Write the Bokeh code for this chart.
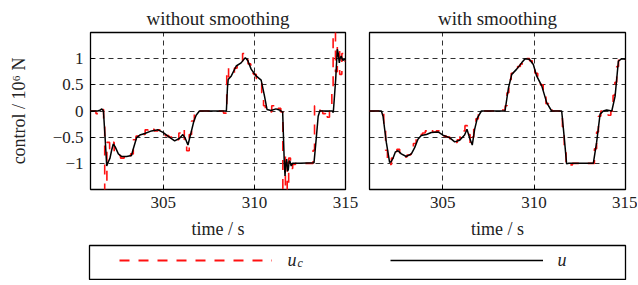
from bokeh.plotting import figure
from bokeh.layouts import column, row
from bokeh.models import Range1d, FixedTicker, Legend, LegendItem, Label
from bokeh.embed import file_html
from bokeh.resources import INLINE

# ---------------- data ----------------
x_ticks = [305, 310, 315]
x_tick_labels = ["305", "310", "315"]
y_ticks = [-1, -0.5, 0, 0.5, 1]
y_tick_labels = ["\u22121", "\u22120.5", "0", "0.5", "1"]

panel_titles = ["without smoothing", "with smoothing"]

# without smoothing: applied control u
t_u_left = [301.0, 301.4, 301.55, 301.62, 301.71, 301.80, 301.89, 301.98, 302.07, 302.16,
            302.25, 302.35, 302.53, 302.71, 302.98, 303.25, 303.35, 303.53, 303.71, 303.98,
            304.35, 304.71, 304.98, 305.25, 305.62, 305.89, 306.07, 306.2, 306.35, 306.53,
            306.67, 306.8, 306.98, 308.4, 308.46, 308.52, 308.56, 308.73, 309.0, 309.27,
            309.5, 309.64, 309.82, 310.09, 310.37, 310.55, 310.69, 310.91, 311.18, 311.37,
            311.55, 311.64, 311.68, 311.72, 311.77, 311.82, 311.86, 311.91, 311.96, 312.02,
            312.09, 312.5, 313.27, 313.4, 313.5, 313.59, 313.99, 314.27, 314.33, 314.46,
            314.55, 314.6, 314.66, 314.7, 314.76, 314.85, 315.0]
u_left = [0.0, 0.0, 0.02, 0.04, 0.0, -0.5, -1.05, -0.97, -0.9, -0.75,
          -0.63, -0.68, -0.82, -0.87, -0.87, -0.85, -0.72, -0.51, -0.46, -0.43,
          -0.38, -0.36, -0.41, -0.48, -0.57, -0.52, -0.45, -0.52, -0.65, -0.4,
          -0.2, -0.08, 0.0, 0.0, 0.0, 0.45, 0.6, 0.67, 0.86, 0.92,
          1.02, 0.96, 0.8, 0.67, 0.59, 0.29, 0.03, 0.01, 0.04, 0.02,
          -0.02, -0.99, -1.24, -1.0, -0.92, -1.15, -1.12, -0.95, -0.97, -1.05,
          -1.0, -1.0, -0.99, -0.5, -0.1, 0.0, 0.0, 0.0, -0.03, 0.6,
          1.18, 1.1, 0.92, 1.0, 1.05, 0.97, 0.99]

# without smoothing: commanded control u_c (zero-order hold)
t_c_left = [301.0, 301.3, 301.45, 301.6, 301.72, 301.78, 301.9, 302.05, 302.15, 302.3,
            302.45, 302.65, 302.85, 303.05, 303.2, 303.35, 303.5, 303.7, 303.85, 304.0,
            304.15, 304.3, 304.5, 304.7, 304.9, 305.1, 305.3, 305.5, 305.7, 305.85,
            306.0, 306.15, 306.28, 306.42, 306.55, 306.7, 306.85, 308.3, 308.45, 308.48,
            308.58, 308.72, 308.9, 309.05, 309.2, 309.35, 309.5, 309.65, 309.8, 309.95,
            310.1, 310.25, 310.4, 310.5, 310.6, 310.8, 310.95, 311.1, 311.3, 311.45,
            311.56, 311.7, 311.8, 311.88, 311.98, 312.1, 312.25, 313.22, 313.3, 313.45,
            313.6, 313.75, 313.9, 314.0, 314.12, 314.25, 314.32, 314.45, 314.55, 314.68,
            314.8, 314.9, 315.0]
uc_left = [0.0, -0.05, 0.0, 0.03, -0.3, -1.7, -0.6, -0.72, -0.6, -0.78,
           -0.85, -0.9, -0.85, -0.88, -0.82, -0.55, -0.48, -0.42, -0.45, -0.36,
           -0.4, -0.35, -0.38, -0.36, -0.43, -0.47, -0.5, -0.56, -0.55, -0.42,
           -0.34, -0.55, -0.76, -0.45, -0.19, -0.06, 0.0, -0.04, 0.0, 0.82,
           0.65, 0.72, 0.82, 0.9, 0.95, 1.1, 0.98, 0.9, 0.72, 0.7,
           0.62, 0.58, 0.35, 0.1, 0.0, -0.02, 0.1, 0.02, 0.05, -0.02,
           -1.7, -0.85, -1.7, -0.9, -1.1, -1.02, -1.0, -0.75, 0.1, 0.05,
           0.0, -0.05, 0.0, -0.12, 0.0, 0.45, 1.7, 0.75, 1.25, 0.7,
           1.1, 0.95, 0.95]

# with smoothing: applied control u
t_u_right = [301.0, 301.65, 301.74, 301.92, 302.1, 302.18, 302.29, 302.42, 302.56, 302.74,
             303.01, 303.29, 303.47, 303.65, 303.83, 304.11, 304.38, 304.75, 305.02, 305.38,
             305.66, 305.93, 306.2, 306.33, 306.48, 306.62, 306.75, 306.9, 307.12, 308.41,
             308.6, 308.78, 309.05, 309.32, 309.51, 309.74, 309.96, 310.14, 310.42, 310.69,
             310.96, 311.51, 311.64, 311.78, 311.9, 313.24, 313.42, 313.61, 313.79, 313.97,
             314.25, 314.43, 314.61, 314.79, 315.0]
u_right = [0.0, 0.0, -0.1, -0.6, -0.98, -0.97, -0.9, -0.78, -0.76, -0.82,
           -0.87, -0.82, -0.7, -0.54, -0.47, -0.45, -0.41, -0.4, -0.46, -0.51,
           -0.59, -0.56, -0.46, -0.35, -0.52, -0.65, -0.35, -0.13, 0.0, 0.0,
           0.44, 0.7, 0.8, 0.92, 1.0, 0.99, 0.89, 0.67, 0.48, 0.16,
           0.0, 0.0, -0.47, -1.01, -1.0, -1.0, -0.6, -0.06, 0.0, 0.02,
           0.0, 0.28, 0.95, 1.0, 0.99]

# with smoothing: commanded control u_c (zero-order hold)
t_c_right = [301.0, 301.5, 301.68, 301.78, 301.88, 301.98, 302.08, 302.2, 302.35, 302.5,
             302.65, 302.85, 303.05, 303.25, 303.4, 303.55, 303.7, 303.9, 304.05, 304.25,
             304.45, 304.65, 304.85, 305.0, 305.2, 305.4, 305.6, 305.8, 305.95, 306.1,
             306.22, 306.35, 306.5, 306.62, 306.7, 306.82, 306.95, 307.1, 308.2, 308.42,
             308.52, 308.62, 308.75, 308.92, 309.1, 309.25, 309.4, 309.55, 309.75, 309.9,
             310.05, 310.2, 310.35, 310.5, 310.65, 310.8, 311.0, 311.55, 311.65, 311.75,
             311.95, 312.1, 313.2, 313.3, 313.42, 313.52, 313.65, 313.9, 314.05, 314.2,
             314.32, 314.42, 314.52, 314.62, 314.8, 315.0]
uc_right = [0.0, 0.02, -0.05, -0.35, -0.75, -0.95, -1.02, -0.9, -0.78, -0.73,
            -0.8, -0.88, -0.84, -0.82, -0.62, -0.5, -0.45, -0.42, -0.38, -0.34,
            -0.4, -0.38, -0.42, -0.48, -0.5, -0.55, -0.6, -0.55, -0.48, -0.38,
            -0.28, -0.45, -0.62, -0.5, -0.3, -0.15, -0.03, 0.0, 0.02, 0.1,
            0.35, 0.6, 0.72, 0.78, 0.85, 0.9, 0.97, 1.0, 0.96, 0.85,
            0.72, 0.6, 0.5, 0.32, 0.14, 0.02, 0.0, -0.3, -0.75, -1.05,
            -1.03, -1.0, -1.0, -0.72, -0.4, -0.1, 0.0, -0.02, -0.08, 0.0,
            0.3, 0.55, 0.85, 1.0, 0.97, 0.97]

x_lim = (301, 315)
y_lim = (-1.5, 1.5)

# ---------------- styling ----------------
FONT = "Liberation Serif"
RED = "#ff1010"
RED_DASH = "10 9"
GRID_DASH = "5 4"
TXT = "#222222"


def style(p, show_y):
    p.title.text_font = FONT
    p.title.text_font_size = "19px"
    p.title.text_font_style = "normal"
    p.title.align = "center"
    p.title.text_color = TXT
    p.title.standoff = 8
    p.outline_line_color = "black"
    p.outline_line_width = 1.3
    p.outline_line_alpha = 1.0
    p.background_fill_color = "white"
    p.border_fill_color = "white"

    p.xaxis.ticker = FixedTicker(ticks=x_ticks)
    p.xaxis.major_label_overrides = dict(zip(x_ticks, x_tick_labels))
    p.xgrid.ticker = FixedTicker(ticks=x_ticks)
    p.ygrid.ticker = FixedTicker(ticks=y_ticks)
    for g in (p.xgrid, p.ygrid):
        g.grid_line_color = "black"
        g.grid_line_dash = GRID_DASH
        g.grid_line_width = 0.9
        g.grid_line_alpha = 0.9

    p.xaxis.axis_label = "time / s"
    for ax in p.axis:
        ax.axis_line_color = None
        ax.major_tick_in = 4
        ax.major_tick_out = 0
        ax.major_tick_line_color = "black"
        ax.minor_tick_line_color = None
        ax.major_label_text_font = FONT
        ax.major_label_text_font_size = "17px"
        ax.major_label_text_color = TXT
        ax.axis_label_text_font = FONT
        ax.axis_label_text_font_size = "18px"
        ax.axis_label_text_font_style = "normal"
        ax.axis_label_text_color = TXT
    p.xaxis.major_label_standoff = 7
    p.xaxis.axis_label_standoff = 8

    if show_y:
        p.yaxis.ticker = FixedTicker(ticks=y_ticks)
        p.yaxis.major_label_overrides = dict(zip(y_ticks, y_tick_labels))
        p.yaxis.axis_label = "control / 10\u2076 N"
        p.yaxis.major_label_standoff = 7
        p.yaxis.axis_label_standoff = 21
    else:
        p.yaxis.visible = False


def make_panel(title, t_c, uc, t_u, u, show_y, left, right):
    p = figure(frame_width=255 if show_y else 256, frame_height=157,
               x_range=Range1d(*x_lim), y_range=Range1d(*y_lim),
               min_border_left=left, min_border_right=right,
               min_border_top=32, min_border_bottom=55,
               output_backend="svg", toolbar_location=None, title=title)
    p.step(t_c, uc, mode="after", line_color=RED, line_width=1.6, line_dash=RED_DASH)
    p.line(t_u, u, line_color="black", line_width=1.5)
    style(p, show_y)
    return p


p1 = make_panel(panel_titles[0], t_c_left, uc_left, t_u_left, u_left, True, 90, 14)
p2 = make_panel(panel_titles[1], t_c_right, uc_right, t_u_right, u_right, False, 10, 12)

# ---------------- legend box ----------------
leg = figure(frame_width=536, frame_height=34, min_border_left=89, min_border_right=12,
             min_border_top=1, min_border_bottom=1,
             x_range=Range1d(0, 536), y_range=Range1d(0, 34),
             x_axis_location=None, y_axis_location=None,
             output_backend="svg", toolbar_location=None)
leg.grid.visible = False
leg.outline_line_color = "black"
leg.outline_line_width = 1.3
leg.outline_line_alpha = 1.0
nan = float("nan")
r_c = leg.line(x=[x_lim[0]], y=[nan], line_color=RED, line_width=1.8, line_dash=RED_DASH)
r_u = leg.line(x=[x_lim[0]], y=[nan], line_color="black", line_width=1.5)

for rend, loc in ((r_c, (30, 9)), (r_u, (301, 9))):
    lg = Legend(items=[LegendItem(label=" ", renderers=[rend])], location=loc,
                glyph_width=153, glyph_height=20, label_width=1, label_standoff=0,
                padding=0, margin=0, border_line_alpha=0, background_fill_alpha=0,
                label_text_font_size="2px")
    leg.add_layout(lg, "center")

leg.add_layout(Label(x=198, y=20, text="u", text_font=FONT, text_font_size="18px",
                     text_font_style="italic", text_color=TXT, text_baseline="alphabetic"))
leg.add_layout(Label(x=208, y=17, text="c", text_font=FONT, text_font_size="12px",
                     text_font_style="italic", text_color=TXT, text_baseline="alphabetic"))
leg.add_layout(Label(x=468, y=20, text="u", text_font=FONT, text_font_size="18px",
                     text_font_style="italic", text_color=TXT, text_baseline="alphabetic"))

layout = column(row(p1, p2, spacing=0), leg, spacing=0)

open("out.html", "w").write(file_html(layout, INLINE))
